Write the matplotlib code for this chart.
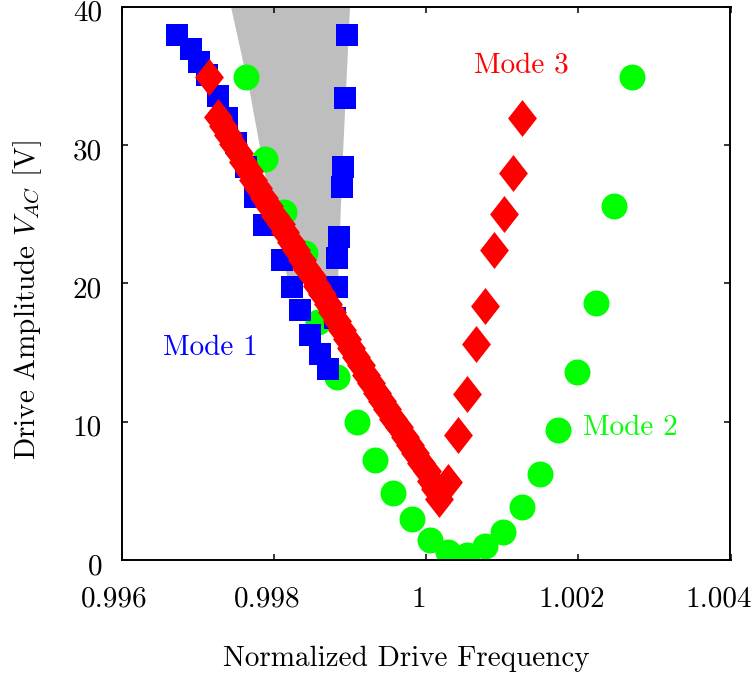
import matplotlib
matplotlib.use("Agg")
import matplotlib.pyplot as plt
from matplotlib.patches import Polygon
from matplotlib.transforms import ScaledTranslation

plt.rcParams["font.family"] = "serif"
plt.rcParams["font.serif"] = ["cmr10", "DejaVu Serif"]
plt.rcParams["mathtext.fontset"] = "cm"
plt.rcParams["axes.unicode_minus"] = False

# Mode 1 (blue squares): lower-frequency branch and upper-frequency branch
mode1_freq = [0.996733, 0.996909, 0.997022, 0.997127, 0.997272, 0.997382,
              0.997504, 0.997635, 0.997754, 0.997876, 0.998112, 0.998236,
              0.998351, 0.998476, 0.998608, 0.998717,
              0.998958, 0.998936, 0.998914, 0.998893, 0.998861, 0.998837,
              0.998827, 0.998805]
mode1_amp = [37.96, 36.95, 35.97, 35.07, 33.56, 31.96,
             30.15, 28.42, 26.25, 24.22, 21.69, 19.74,
             18.08, 16.27, 14.90, 13.80,
             37.96, 33.40, 28.42, 26.97, 23.38, 21.82,
             19.74, 17.50]

# Mode 2 (green circles)
mode2_freq = [0.997636, 0.997885, 0.998135, 0.998411, 0.998585, 0.998837,
              0.999090, 0.999330, 0.999571, 0.999812, 1.000053, 1.000293,
              1.000535, 1.000775, 1.001016, 1.001257, 1.001501, 1.001738,
              1.001987, 1.002229, 1.002466, 1.002710]
mode2_amp = [34.95, 28.97, 25.18, 22.20, 17.23, 13.20,
             10.00, 7.23, 4.82, 3.00, 1.45, 0.60,
             0.36, 1.00, 2.05, 3.85, 6.22, 9.40,
             13.60, 18.60, 25.60, 34.95]

# Mode 3 (red diamonds): dense falling branch, then sparse rising branch
mode3_freq = [0.99715,
              0.99727, 0.99733, 0.99740, 0.99747, 0.99754, 0.99760, 0.99767,
              0.99773, 0.99779, 0.99787, 0.99794, 0.99802, 0.99809, 0.99815,
              0.99823, 0.99829, 0.99837, 0.99843, 0.99850, 0.99857, 0.99864,
              0.99871, 0.99877, 0.99883, 0.99890, 0.99896, 0.99902, 0.99908,
              0.99914, 0.99921, 0.99928, 0.99935, 0.99942, 0.99949, 0.99957,
              0.99964, 0.99972, 0.99979, 0.99986, 0.99994, 1.00001, 1.00007,
              1.00012, 1.00017,
              1.000293, 1.000416, 1.000535, 1.000657, 1.000779, 1.000897,
              1.001021, 1.001143, 1.001261]
mode3_amp = [34.95,
             32.0, 31.4, 30.7, 30.1, 29.4, 28.8, 28.1,
             27.5, 26.9, 26.2, 25.6, 24.9, 24.3, 23.7,
             23.0, 22.4, 21.7, 21.1, 20.5, 19.8, 19.2,
             18.5, 17.9, 17.3, 16.6, 16.0, 15.3, 14.7,
             14.1, 13.4, 12.8, 12.1, 11.5, 10.9, 10.2,
             9.6, 8.9, 8.3, 7.7, 7.0, 6.4, 5.7,
             5.1, 4.4,
             5.66, 9.04, 12.00, 15.62, 18.39, 22.42,
             25.00, 27.96, 31.94]

# Shaded region outline (frequency, amplitude)
region_freq = [0.997438, 0.997688, 0.997819, 0.997951, 0.998187,
               0.998844, 0.998910, 0.999002]
region_amp = [40.0, 33.77, 29.86, 26.0, 20.2,
              20.2, 29.4, 40.0]

x_ticks = [0.996, 0.998, 1.000, 1.002, 1.004]
x_tick_labels = ["0.996", "0.998", "1", "1.002", "1.004"]
y_ticks = [0, 10, 20, 30, 40]

W, H = 753, 677
fig = plt.figure(figsize=(W / 100, H / 100), dpi=100)
ax = fig.add_axes([121.5 / W, (H - 560) / H, 609 / W, 553.3 / H])

ax.add_patch(Polygon(list(zip(region_freq, region_amp)), closed=True,
                     facecolor="#bebebe", edgecolor="none", zorder=1))

ax.plot(mode2_freq, mode2_amp, linestyle="none", marker="o", markersize=18.7,
        markeredgewidth=0, color="#00ff00", zorder=2)
ax.plot(mode1_freq, mode1_amp, linestyle="none", marker="s", markersize=16.5,
        markeredgewidth=0, color="#0000ff", zorder=3)
diamond = [(0, 1), (0.78, 0), (0, -1), (-0.78, 0), (0, 1)]
ax.plot(mode3_freq, mode3_amp, linestyle="none", marker=diamond,
        markersize=26.6, markeredgewidth=0, color="#ff0000", zorder=4)

fs = 21
ax.text(0.997163, 15.33, "Mode 1", color="#0000ff", fontsize=fs,
        ha="center", va="center")
ax.text(1.002680, 9.54, "Mode 2", color="#00ff00", fontsize=fs,
        ha="center", va="center")
ax.text(1.001248, 35.79, "Mode 3", color="#ff0000", fontsize=fs,
        ha="center", va="center")

ax.set_xlim(0.996, 1.004)
ax.set_ylim(0, 40)
ax.set_xticks(x_ticks)
ax.set_xticklabels(x_tick_labels)
ax.set_yticks(y_ticks)
ax.tick_params(direction="in", length=4.2, width=1.1, labelsize=fs,
               top=True, right=True)
ax.tick_params(axis="x", pad=19)
ax.tick_params(axis="y", pad=14)
for s in ax.spines.values():
    s.set_linewidth(1.4)

# nudge tick labels slightly (left for x, down for y); keep the last one inside
xlabels = ax.get_xticklabels()
for i, lab in enumerate(xlabels):
    shift = -12 if i == len(xlabels) - 1 else -7
    lab.set_transform(lab.get_transform()
                      + ScaledTranslation(shift / 100, 0, fig.dpi_scale_trans))
dy = ScaledTranslation(0, -4 / 100, fig.dpi_scale_trans)
for lab in ax.get_yticklabels():
    lab.set_transform(lab.get_transform() + dy)

ax.set_xlabel("Normalized Drive Frequency", fontsize=fs)
ax.set_ylabel(r"Drive Amplitude $V_{AC}$ [V]", fontsize=fs)
ax.xaxis.set_label_coords(0.467, -0.155)
ax.yaxis.set_label_coords(-0.128, 0.47)

fig.savefig("out.png", dpi=100)
